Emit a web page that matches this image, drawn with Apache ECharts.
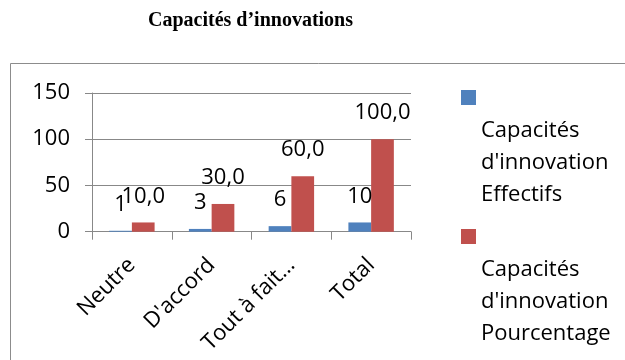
<!DOCTYPE html>
<html>
<head>
<meta charset="utf-8">
<script src="https://cdn.jsdelivr.net/npm/echarts@6/dist/echarts.min.js"></script>
<style>
  html, body { margin: 0; padding: 0; background: #fff; }
  #chart { width: 625px; height: 360px; }
</style>
</head>
<body>
<div id="chart"></div>
<script>
// Réponses à la question sur les capacités d'innovation
const categories = ['Neutre', "D'accord", 'Tout à fait…', 'Total'];
const effectifs = [1, 3, 6, 10];
const pourcentage = [10.0, 30.0, 60.0, 100.0];
const seriesNames = ["Capacités d'innovation Effectifs", "Capacités d'innovation Pourcentage"];
const yTicks = { min: 0, max: 150, step: 50 };

const FONT = 'Open Sans';
const BLUE = '#4F81BD';
const RED = '#C0504D';
const GRID = '#888888';

// Legend swatch sits at the top of a tall box so the wrapped name hangs below it
const swatch = 'path://M0,0L0.01,0L0,0ZM0,7L15,7L15,22L0,22ZM15,128L14.99,128L15,128Z';

const chart = echarts.init(document.getElementById('chart'), null, { renderer: 'canvas' });

chart.setOption({
  animation: false,
  backgroundColor: '#ffffff',
  title: {
    text: 'Capacités d’innovations',
    left: 148,
    top: 11,
    padding: 0,
    textStyle: {
      fontFamily: 'Liberation Serif',
      fontWeight: 'bold',
      fontSize: 20,
      color: '#000'
    }
  },
  graphic: [{
    type: 'rect',
    silent: true,
    shape: { x: 10.5, y: 63.5, width: 800, height: 500 },
    style: { fill: 'none', stroke: '#8c8c8c', lineWidth: 1 }
  }],
  legend: {
    orient: 'vertical',
    left: 461,
    top: 83,
    padding: 0,
    itemWidth: 15,
    itemHeight: 128,
    itemGap: 11,
    icon: swatch,
    data: seriesNames,
    formatter: function (name) {
      return '\n' + name.split(' ').join('\n');
    },
    textStyle: {
      fontFamily: FONT,
      fontSize: 22,
      lineHeight: 32,
      color: '#000'
    }
  },
  grid: {
    left: 92,
    right: 214,
    top: 93,
    bottom: 128.3,
    containLabel: false
  },
  xAxis: {
    type: 'category',
    data: categories,
    axisLine: { show: true, lineStyle: { color: GRID, width: 1 } },
    axisTick: { show: true, length: 8, interval: 0, lineStyle: { color: GRID } },
    axisLabel: {
      interval: 0,
      rotate: 45,
      align: 'right',
      verticalAlign: 'middle',
      margin: 30,
      fontFamily: FONT,
      fontSize: 22,
      color: '#000'
    }
  },
  yAxis: {
    type: 'value',
    min: yTicks.min,
    max: yTicks.max,
    interval: yTicks.step,
    axisLine: { show: true, lineStyle: { color: GRID, width: 1 } },
    axisTick: { show: true, length: 7, lineStyle: { color: GRID } },
    splitLine: { show: true, lineStyle: { color: GRID, width: 1 } },
    axisLabel: {
      margin: 22,
      fontFamily: FONT,
      fontSize: 22,
      color: '#000'
    }
  },
  series: [
    {
      name: seriesNames[0],
      type: 'bar',
      data: effectifs,
      barGap: '0%',
      barCategoryGap: '43%',
      itemStyle: { color: BLUE },
      label: {
        show: true,
        position: 'top',
        distance: 13,
        fontFamily: FONT,
        fontSize: 22,
        lineHeight: 26,
        color: '#000',
        formatter: function (p) { return String(p.value); }
      }
    },
    {
      name: seriesNames[1],
      type: 'bar',
      data: pourcentage,
      barGap: '0%',
      barCategoryGap: '43%',
      itemStyle: { color: RED },
      label: {
        show: true,
        position: 'top',
        distance: 13,
        fontFamily: FONT,
        fontSize: 22,
        lineHeight: 26,
        color: '#000',
        formatter: function (p) { return p.value.toFixed(1).replace('.', ','); }
      }
    }
  ]
});
</script>
</body>
</html>
